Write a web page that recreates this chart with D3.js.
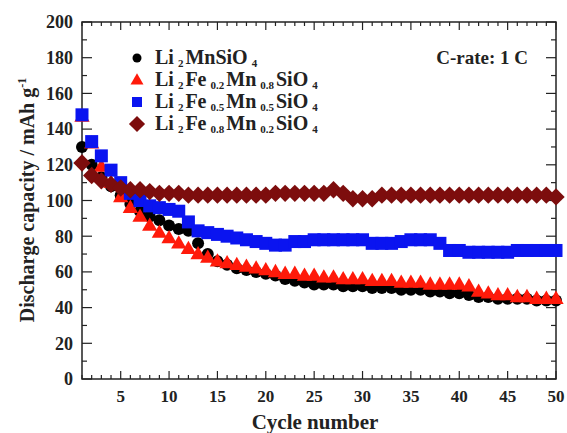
<!DOCTYPE html>
<html lang="en">
<head>
<meta charset="UTF-8">
<title>Discharge capacity vs cycle</title>
<script src="https://cdn.jsdelivr.net/npm/d3@7"></script>
<style>
  body { margin: 0; background: #fff; }
  text { font-family: "Liberation Serif", "Times New Roman", serif; font-weight: bold; fill: #222; }
</style>
</head>
<body>
<svg width="567" height="433" id="main"></svg>
<script>
  // cycle numbers 1..50
  const cycles = [1,2,3,4,5,6,7,8,9,10,11,12,13,14,15,16,17,18,19,20,21,22,23,24,25,26,27,28,29,30,31,32,33,34,35,36,37,38,39,40,41,42,43,44,45,46,47,48,49,50];

  // Li2MnSiO4
  const mnValues = [130,120,113,108,103,98,94,91,89,86,84,83,76,70,66,64,62,61,60,59,58,56,55,54,53,53,53,52,52,52,51,51,51,50,50,50,49,49,48,48,47,46,46,45,45,45,45,44,44,44];
  // Li2Fe0.2Mn0.8SiO4
  const fe02Values = [147,132,119,110,102,96,91,86,82,79,76,73,70,68,66,65,64,63,62,61,60,59,59,58,58,57,57,56,56,56,55,55,55,54,54,54,53,53,53,53,52,49,48,47,47,46,46,45,45,45];
  // Li2Fe0.5Mn0.5SiO4
  const fe05Values = [148,133,125,117,110,104,100,97,96,95,94,88,83,82,81,80,79,78,77,76,75,75,77,77,78,78,78,78,78,78,76,76,76,77,78,78,78,76,72,72,71,71,71,71,71,72,72,72,72,72];
  // Li2Fe0.8Mn0.2SiO4
  const fe08Values = [121,114,111,109,107,106,106,105,104,104,104,103,103,103,103,103,103,103,103,103,104,104,104,104,104,104,106,104,101,101,101,103,103,103,103,103,103,103,103,103,103,103,103,103,103,103,103,103,103,102];

  const yTicks = [0,20,40,60,80,100,120,140,160,180,200];
  const xTicks = [5,10,15,20,25,30,35,40,45,50];

  const series = [
    {name: [['Li'],['2','sub'],['MnSiO'],['4','sub']], values: mnValues, color: '#000000', shape: 'circle'},
    {name: [['Li'],['2','sub'],['Fe'],['0.2','sub'],['Mn'],['0.8','sub'],['SiO'],['4','sub']], values: fe02Values, color: '#ff1a0a', shape: 'triangle'},
    {name: [['Li'],['2','sub'],['Fe'],['0.5','sub'],['Mn'],['0.5','sub'],['SiO'],['4','sub']], values: fe05Values, color: '#0a14f0', shape: 'square'},
    {name: [['Li'],['2','sub'],['Fe'],['0.8','sub'],['Mn'],['0.2','sub'],['SiO'],['4','sub']], values: fe08Values, color: '#7d0d0d', shape: 'diamond'},
  ];

  const svg = d3.select('#main');
  const margin = {top: 22, right: 11, bottom: 54, left: 82};
  const W = +svg.attr('width'), H = +svg.attr('height');
  const w = W - margin.left - margin.right;
  const h = H - margin.top - margin.bottom;

  const x = d3.scaleLinear().domain([1, 50]).range([0, w]);
  const y = d3.scaleLinear().domain([0, 200]).range([h, 0]);

  const g = svg.append('g').attr('transform', `translate(${margin.left},${margin.top})`);

  // 小刻度（每个循环一个，y 每 10 一个）
  const minorX = cycles;
  const minorY = d3.range(0, 201, 10);

  // ticks point inward on all four sides
  const axisG = g.append('g').attr('stroke', '#222').attr('stroke-width', 1.2);
  minorX.forEach(v => {
    const len = v % 5 === 0 ? 8 : 4;
    axisG.append('line').attr('x1', x(v)).attr('x2', x(v)).attr('y1', h).attr('y2', h - len);
    axisG.append('line').attr('x1', x(v)).attr('x2', x(v)).attr('y1', 0).attr('y2', len);
  });
  minorY.forEach(v => {
    const len = v % 20 === 0 ? 10 : 5;
    axisG.append('line').attr('x1', 0).attr('x2', len).attr('y1', y(v)).attr('y2', y(v));
    axisG.append('line').attr('x1', w).attr('x2', w - len).attr('y1', y(v)).attr('y2', y(v));
  });

  // frame
  g.append('rect').attr('width', w).attr('height', h)
    .attr('fill', 'none').attr('stroke', '#222').attr('stroke-width', 1.5);

  // tick labels
  g.selectAll('.ylab').data(yTicks).enter().append('text')
    .attr('x', -9).attr('y', d => y(d)).attr('dy', '0.35em')
    .attr('text-anchor', 'end').attr('font-size', 18)
    .text(d => d);
  g.selectAll('.xlab').data(xTicks).enter().append('text')
    .attr('x', d => x(d)).attr('y', h + 23)
    .attr('text-anchor', 'middle').attr('font-size', 17)
    .text(d => d);

  // axis titles
  svg.append('text').attr('x', 315).attr('y', 429)
    .attr('text-anchor', 'middle').attr('font-size', 21)
    .text('Cycle number');
  const yt = svg.append('text')
    .attr('transform', `translate(34,200) rotate(-90)`)
    .attr('text-anchor', 'middle').attr('font-size', 20);
  yt.append('tspan').text('Discharge capacity / mAh g');
  yt.append('tspan').attr('dy', -8).attr('font-size', 12).text('-1');

  // markers
  function drawMarker(sel, shape, color, s) {
    if (shape === 'circle') {
      sel.append('circle').attr('r', s * 0.5).attr('fill', color);
    } else if (shape === 'triangle') {
      const a = s * 0.62;
      sel.append('path').attr('d', `M0,${-a}L${a * 0.95},${a * 0.65}L${-a * 0.95},${a * 0.65}Z`).attr('fill', color);
    } else if (shape === 'square') {
      sel.append('rect').attr('x', -s / 2).attr('y', -s / 2).attr('width', s).attr('height', s).attr('fill', color);
    } else {
      const a = s * 0.62;
      sel.append('path').attr('d', `M0,${-a}L${a},0L0,${a}L${-a},0Z`).attr('fill', color);
    }
  }

  const plotSize = {circle: 12, triangle: 13, square: 13, diamond: 14};
  series.forEach(sr => {
    const pts = g.append('g').selectAll('g').data(sr.values).enter().append('g')
      .attr('transform', (d, i) => `translate(${x(cycles[i])},${y(d)})`);
    drawMarker(pts, sr.shape, sr.color, plotSize[sr.shape]);
  });

  // legend
  const legendSize = {circle: 9, triangle: 11, square: 10, diamond: 13};
  const legend = svg.append('g').attr('transform', 'translate(137,58)');
  series.forEach((sr, i) => {
    const row = legend.append('g').attr('transform', `translate(0,${i * 22})`);
    drawMarker(row, sr.shape, sr.color, legendSize[sr.shape]);
    const t = row.append('text').attr('x', 18).attr('y', 6).attr('font-size', 20);
    let shifted = false;
    sr.name.forEach(([txt, kind]) => {
      const ts = t.append('tspan').text(txt);
      if (kind === 'sub') {
        ts.attr('font-size', 11).attr('dx', 4);
        if (!shifted) { ts.attr('dy', 3); shifted = true; }
      } else if (shifted) {
        ts.attr('dy', -3).attr('dx', 2); shifted = false;
      }
    });
  });

  // C-rate note
  svg.append('text').attr('x', 528).attr('y', 64).attr('text-anchor', 'end')
    .attr('font-size', 19).text('C-rate: 1 C');
</script>
</body>
</html>
